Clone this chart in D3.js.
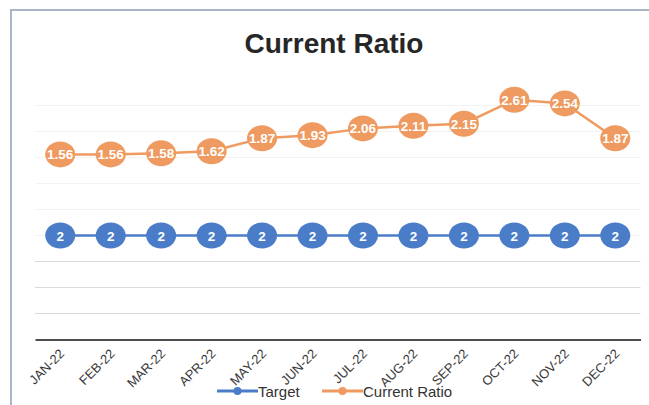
<!DOCTYPE html>
<html>
<head>
<meta charset="utf-8">
<script src="https://cdn.jsdelivr.net/npm/d3@7/dist/d3.min.js"></script>
<style>
  html, body { margin: 0; padding: 0; background: #fff; }
  svg { display: block; font-family: "Liberation Sans", Arial, sans-serif; }
</style>
</head>
<body>
<svg id="chart" width="649" height="405"></svg>
<script>
// Monthly categories and series
const months = ["JAN-22","FEB-22","MAR-22","APR-22","MAY-22","JUN-22","JUL-22","AUG-22","SEP-22","OCT-22","NOV-22","DEC-22"];
const target = [2, 2, 2, 2, 2, 2, 2, 2, 2, 2, 2, 2];
const currentRatio = [1.56, 1.56, 1.58, 1.62, 1.87, 1.93, 2.06, 2.11, 2.15, 2.61, 2.54, 1.87];
const gridValues = [0.5, 1, 1.5, 2, 2.5, 3, 3.5, 4, 4.5];

const colors = { "Target": "#4a7cc8", "Current Ratio": "#ef9a60" };

const W = 649, H = 405;
const svg = d3.select("#chart");

// Chart frame
svg.append("rect").attr("x", 11).attr("y", 10).attr("width", W).attr("height", H)
  .attr("fill", "#fff").attr("stroke", "#a9b6c8").attr("stroke-width", 2);

// Title
svg.append("text").attr("x", 334).attr("y", 53).attr("text-anchor", "middle")
  .attr("font-size", 28).attr("font-weight", "bold").attr("fill", "#262626")
  .text("Current Ratio");

// Scales (stacked line: Current Ratio sits on top of Target)
const x = d3.scaleBand().domain(months).range([35, 640.5]);
const cx = m => x(m) + x.bandwidth() / 2;
const y = d3.scaleLinear().domain([0, 5]).range([339.5, 79.5]);

// Gridlines
svg.append("g").selectAll("line").data(gridValues).join("line")
  .attr("x1", 35).attr("x2", 640.5)
  .attr("y1", d => y(d)).attr("y2", d => y(d))
  .attr("stroke", d => d <= 1.5 ? "#dadada" : "#f3f3f3").attr("stroke-width", 1);

// Category axis
const xAxis = svg.append("g").attr("transform", `translate(0,${y(0)})`)
  .call(d3.axisBottom(x).tickSize(0).tickPadding(0));
xAxis.select(".domain").attr("stroke", "#4d4d4d").attr("stroke-width", 2.2);
xAxis.selectAll(".tick text")
  .attr("font-size", 13).attr("fill", "#3a3a3a")
  .attr("text-anchor", "end")
  .attr("dy", 0)
  .attr("transform", "translate(5,15) rotate(-45)");

// Data
const stacked = months.map((m, i) => ({
  m, t: target[i], c: currentRatio[i], top: target[i] + currentRatio[i]
}));

const line = acc => d3.line().x(d => cx(d.m)).y(d => y(acc(d)));

const layers = [
  { name: "Target", acc: d => d.t, label: d => d3.format("")(d.t) },
  { name: "Current Ratio", acc: d => d.top, label: d => d.c.toFixed(2) }
];

layers.forEach(L => {
  const g = svg.append("g");
  g.append("path").datum(stacked)
    .attr("d", line(L.acc)).attr("fill", "none")
    .attr("stroke", colors[L.name]).attr("stroke-width", 2.5);
  g.selectAll("ellipse").data(stacked).join("ellipse")
    .attr("cx", d => cx(d.m)).attr("cy", d => y(L.acc(d)))
    .attr("rx", 15).attr("ry", 13)
    .attr("fill", colors[L.name]);
  g.selectAll("text").data(stacked).join("text")
    .attr("x", d => cx(d.m)).attr("y", d => y(L.acc(d)) + 5)
    .attr("text-anchor", "middle").attr("font-size", 13.5).attr("font-weight", "bold")
    .attr("fill", "#fff")
    .text(L.label);
});

// Legend
const legend = svg.append("g").attr("transform", "translate(0,391)");
const legendItems = [
  { name: "Target", x: 217 },
  { name: "Current Ratio", x: 322 }
];
legendItems.forEach(it => {
  legend.append("line").attr("x1", it.x).attr("x2", it.x + 41).attr("y1", 0).attr("y2", 0)
    .attr("stroke", colors[it.name]).attr("stroke-width", 3);
  legend.append("circle").attr("cx", it.x + 20.5).attr("cy", 0).attr("r", 4)
    .attr("fill", colors[it.name]);
  legend.append("text").attr("x", it.x + 41).attr("y", 5.5).attr("font-size", 15)
    .attr("fill", "#333").text(it.name);
});
</script>
</body>
</html>
